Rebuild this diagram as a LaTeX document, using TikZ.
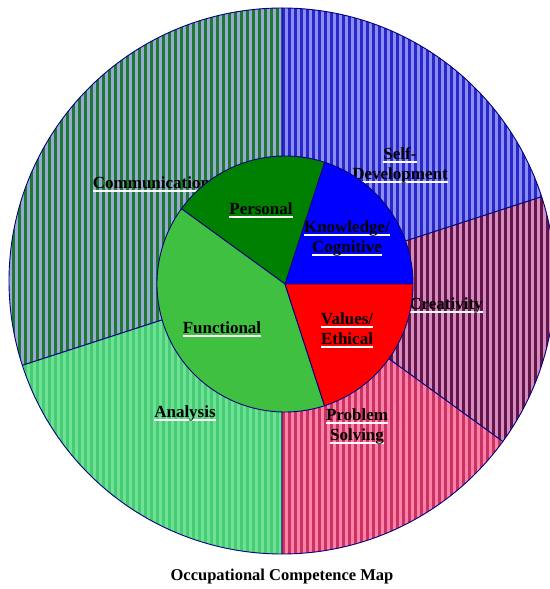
\documentclass[tikz,border=0pt]{standalone}
\usepackage{fontspec}
\setmainfont{Liberation Serif}
\usepackage{xcolor}
\usetikzlibrary{calc}

\definecolor{ringnavy}{RGB}{0,0,128}
\definecolor{commdark}{RGB}{30,120,50}
\definecolor{commlight}{RGB}{150,170,210}
\definecolor{selfdark}{RGB}{40,40,200}
\definecolor{selflight}{RGB}{140,140,245}
\definecolor{creadark}{RGB}{100,20,70}
\definecolor{crealight}{RGB}{210,140,190}
\definecolor{probdark}{RGB}{200,50,100}
\definecolor{problight}{RGB}{255,130,165}
\definecolor{anadark}{RGB}{70,205,115}
\definecolor{analight}{RGB}{110,225,150}
\definecolor{persgreen}{RGB}{0,128,0}
\definecolor{knowblue}{RGB}{0,0,255}
\definecolor{funcgreen}{RGB}{64,192,64}
\definecolor{valred}{RGB}{255,0,0}

% bold label with a white rule under it
\newcommand\wline[1]{\leavevmode\setbox0\hbox{#1}\rlap{\color{white}\rule[-3.5pt]{\wd0}{1.6pt}}\box0}

% striped outer sector: #1 start, #2 end, #3 light, #4 dark
\newcommand\ringsector[4]{%
	\begin{scope}
		\clip (O) -- ++(#1:273) arc[start angle=#1,end angle=#2,radius=273pt] -- cycle;
		\fill[#3] (0,0) rectangle (560,589);
		\foreach \x in {0,6,...,558} \fill[#4] (\x,0) rectangle ++(3,589);
	\end{scope}
	\draw[ringline] (O) -- ++(#1:273) arc[start angle=#1,end angle=#2,radius=273pt] -- cycle;
}

% solid inner sector: #1 start, #2 end, #3 colour
\newcommand\piesector[3]{%
	\draw[ringline,fill=#3] (I) -- ++(#1:128) arc[start angle=#1,end angle=#2,radius=128pt] -- cycle;
}

\begin{document}
\begin{tikzpicture}[x=1pt,y=1pt,
	ringline/.style={draw=ringnavy,line width=0.9pt,line join=round},
	seglabel/.style={font=\bfseries\fontsize{17}{20}\selectfont,align=center,inner sep=0pt}]
	\useasboundingbox (0,0) rectangle (549,589);
	\coordinate (O) at (282,308);
	\coordinate (I) at (285,305);
	
	% outer ring
	\ringsector{90}{198}{commlight}{commdark}
	\ringsector{198}{270}{analight}{anadark}
	\ringsector{270}{324}{problight}{probdark}
	\ringsector{324}{378}{crealight}{creadark}
	\ringsector{18}{90}{selflight}{selfdark}
	
	\node[seglabel] (comm) at (151.5,405) {\wline{Communication}};
	\node[seglabel] (self) at (400,424) {\wline{Self-}\\\wline{Development}};
	\node[seglabel] (crea) at (446,284) {\wline{Creativity}};
	\node[seglabel] (prob) at (357,163) {\wline{Problem}\\\wline{Solving}};
	\node[seglabel] (ana) at (185,176) {\wline{Analysis}};
	
	% inner pie
	\piesector{0}{72}{knowblue}
	\piesector{72}{144}{persgreen}
	\piesector{144}{288}{funcgreen}
	\piesector{288}{360}{valred}
	
	\node[seglabel] (pers) at (261,379) {\wline{Personal}};
	\node[seglabel] (know) at (347,351) {\wline{Knowledge/}\\\wline{Cognitive}};
	\node[seglabel] (func) at (222,260) {\wline{Functional}};
	\node[seglabel] (val) at (347,259) {\wline{Values/}\\\wline{Ethical}};
	
	\node[font=\bfseries\fontsize{16.5}{19}\selectfont] (title) at (282,12) {Occupational Competence Map};
\end{tikzpicture}
\end{document}
